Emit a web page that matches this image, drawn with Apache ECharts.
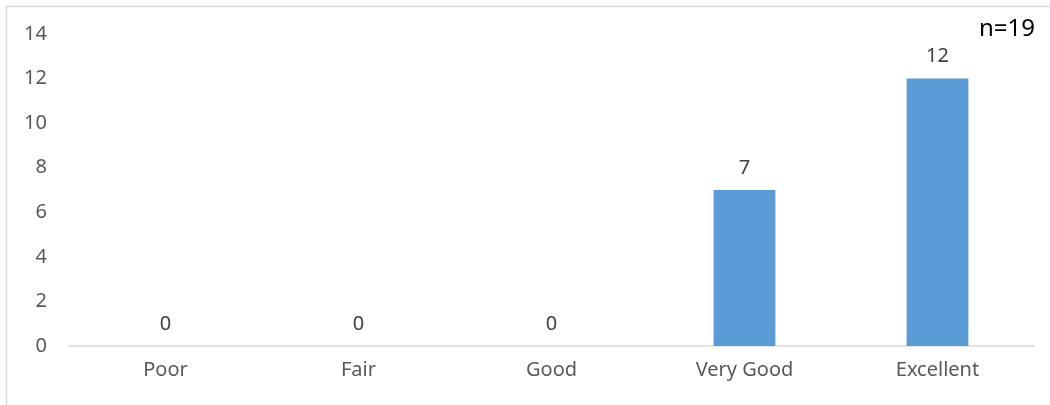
<!DOCTYPE html>
<html>
<head>
<meta charset="utf-8">
<script src="https://cdn.jsdelivr.net/npm/echarts@6/dist/echarts.min.js"></script>
<style>
  html, body { margin: 0; padding: 0; background: #fff; }
  #chart { width: 1050px; height: 405px; }
</style>
</head>
<body>
<div id="chart"></div>
<script>
// ratings and counts
const categories = ['Poor', 'Fair', 'Good', 'Very Good', 'Excellent']
const counts = [0, 0, 0, 7, 12]
const yTicks = [0, 2, 4, 6, 8, 10, 12, 14]
const note = 'n=19'

const FONT = '"Noto Sans", "Open Sans", sans-serif'
const chart = echarts.init(document.getElementById('chart'))

chart.setOption({
  animation: false,
  textStyle: { fontFamily: FONT },
  grid: { left: 69, right: 16, top: 34, bottom: 59 },
  graphic: [
    {
      type: 'rect', left: 4, top: 4, z: -1,
      shape: { width: 1060, height: 420 },
      style: { fill: 'none', stroke: '#d9d9d9', lineWidth: 1.5 }
    },
    {
      type: 'text', left: 979, top: 17,
      style: { text: note, fill: '#000', font: '24px ' + FONT }
    }
  ],
  xAxis: {
    type: 'category',
    data: categories,
    axisTick: { show: false },
    axisLine: { lineStyle: { color: '#d9d9d9', width: 1.5 } },
    axisLabel: { color: '#595959', fontSize: 20, margin: 14 }
  },
  yAxis: {
    type: 'value',
    min: yTicks[0],
    max: yTicks[yTicks.length - 1],
    interval: 2,
    axisLine: { show: false },
    axisTick: { show: false },
    splitLine: { show: false },
    axisLabel: { color: '#595959', fontSize: 20, margin: 22 }
  },
  series: [{
    type: 'bar',
    data: counts,
    barWidth: '32%',
    itemStyle: { color: '#5b9bd5' },
    label: {
      show: true, position: 'top', distance: 12,
      color: '#404040', fontSize: 20
    }
  }]
})
</script>
</body>
</html>
